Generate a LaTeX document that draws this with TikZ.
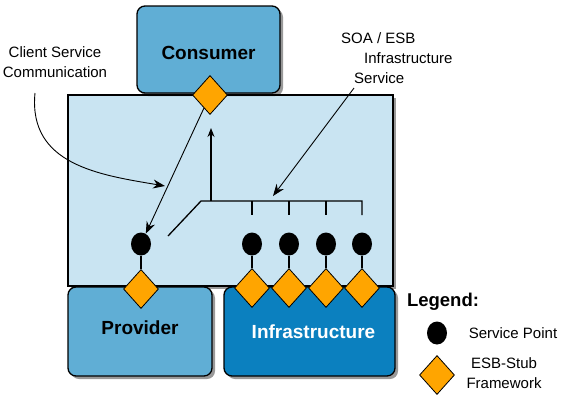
\documentclass[tikz,border=0pt]{standalone}
\usepackage{fontspec}
\setmainfont{Liberation Sans}
\usetikzlibrary{shapes.geometric,arrows.meta,shadows}
\definecolor{boxblue}{RGB}{96,174,213}
\definecolor{infrablue}{RGB}{11,128,191}
\definecolor{paleblue}{RGB}{201,228,242}
\definecolor{stuborange}{RGB}{255,165,0}
\begin{document}
\begin{tikzpicture}[x=1pt,y=-1pt,
  shd/.style={drop shadow={shadow xshift=3pt,shadow yshift=-3pt,opacity=0.4,fill=black}},
  comp/.style={draw=black,line width=1.3pt,rounded corners=8pt,shd,inner sep=0pt,
    font=\fontsize{19}{23}\selectfont\bfseries},
  stub/.style={diamond,draw=black,line width=0.8pt,fill=stuborange,
    minimum width=35pt,minimum height=39pt,inner sep=0pt},
  spoint/.style={ellipse,fill=black,minimum width=20pt,minimum height=23pt,inner sep=0pt},
  stem/.style={line width=1.5pt},
  busline/.style={line width=1.3pt},
  arr/.style={line width=0.9pt,-{Stealth[length=12pt,width=9pt,inset=4pt]}},
  uparr/.style={line width=1.1pt,-{Stealth[length=9pt,width=7pt,inset=3pt]}},
  txt/.style={font=\fontsize{15}{20}\selectfont,inner sep=0pt}]
\useasboundingbox (0,0) rectangle (564,408);
% main ESB area
\node[draw=black,line width=1.3pt,fill=paleblue,shd,minimum width=325pt,
  minimum height=191pt,inner sep=0pt] (esb) at (230.5,190.5) {};
% components
\node[comp,fill=boxblue,minimum width=143pt,minimum height=87pt,text height=20pt,text depth=0pt]
  (cons) at (208.5,49.5) {Consumer};
\node[comp,fill=boxblue,minimum width=144pt,minimum height=89pt,text height=9pt,text depth=4pt]
  (prov) at (140,331.5) {Provider};
\node[comp,fill=infrablue,text=white,minimum width=171pt,minimum height=89pt]
  (infra) at (309.5,331.5) {\hspace*{8pt}Infrastructure};
% bus
\coordinate (busD) at (168,236);
\coordinate (busL) at (201,201);
\coordinate (busR) at (362,201);
\coordinate (busU) at (211,201);
\coordinate (upT) at (211,128);
% service points
\node[spoint] (psp) at (141,244) {};
\node[spoint] (isp1) at (252,244) {};
\node[spoint] (isp2) at (289,244) {};
\node[spoint] (isp3) at (326,244) {};
\node[spoint] (isp4) at (362,244) {};
\draw[busline] (busD) -- (busL) -- (busR) -- ++(0,14);
\foreach \i in {1,2,3}{\draw[busline] (isp\i |- busL) -- ++(0,14);}
\draw[uparr] (busU) -- (upT);
% stubs
\node[stub] (cstub) at (210,95) {};
\node[stub] (pstub) at (141,289) {};
\node[stub] (istub1) at (252,288) {};
\node[stub] (istub2) at (289,288) {};
\node[stub] (istub3) at (326,288) {};
\node[stub] (istub4) at (362,288) {};
\draw[stem] (psp) -- (pstub);
\foreach \i in {1,2,3,4}{\draw[stem] (isp\i) -- (istub\i);}
% consumer to provider
\draw[arr] (cstub) -- (psp);
% annotations
\node[txt,align=center] (csc) at (55,62) {Client Service\\Communication};
\coordinate (cscA) at (35,93);
\coordinate (cscT) at (165,186);
\draw[arr] (cscA) .. controls (28,165) and (100,175) .. (cscT);
\node[txt,align=left,anchor=north west] (soa) at (341,32)
  {SOA / ESB\\\hspace*{23pt}Infrastructure\\\hspace*{13pt}Service};
\coordinate (soaA) at (354,88);
\coordinate (soaT) at (273,196);
\draw[arr] (soaA) -- (soaT);
% legend
\node[font=\fontsize{18.5}{22}\selectfont\bfseries,inner sep=0pt] (leg) at (443,302) {Legend:};
\node[spoint] (lsp) at (437,333) {};
\node[txt] (lspt) at (513,333) {Service Point};
\node[stub] (lst) at (437,375) {};
\node[txt,align=center] (lstt) at (504,373) {ESB-Stub\\Framework};
\end{tikzpicture}
\end{document}
